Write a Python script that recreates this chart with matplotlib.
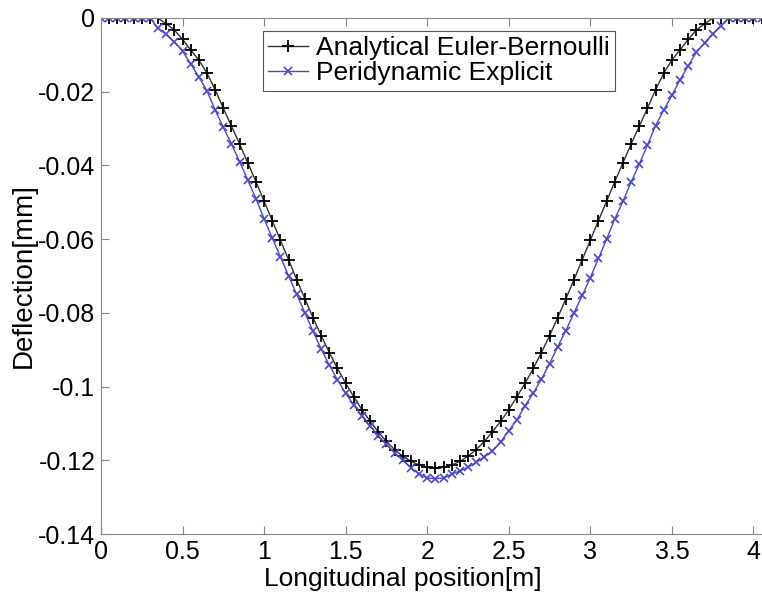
import numpy as np
import matplotlib.pyplot as plt
from matplotlib.ticker import FuncFormatter

plt.rcParams['font.family'] = ['Liberation Sans', 'DejaVu Sans']

# longitudinal positions of the nodes [m]
x_pos = [0.00, 0.05, 0.10, 0.15, 0.20, 0.25, 0.30, 0.35, 0.40, 0.45,
         0.50, 0.55, 0.60, 0.65, 0.70, 0.75, 0.80, 0.85, 0.90, 0.95,
         1.00, 1.05, 1.10, 1.15, 1.20, 1.25, 1.30, 1.35, 1.40, 1.45,
         1.50, 1.55, 1.60, 1.65, 1.70, 1.75, 1.80, 1.85, 1.90, 1.95,
         2.00, 2.05, 2.10, 2.15, 2.20, 2.25, 2.30, 2.35, 2.40, 2.45,
         2.50, 2.55, 2.60, 2.65, 2.70, 2.75, 2.80, 2.85, 2.90, 2.95,
         3.00, 3.05, 3.10, 3.15, 3.20, 3.25, 3.30, 3.35, 3.40, 3.45,
         3.50, 3.55, 3.60, 3.65, 3.70, 3.75, 3.80, 3.85, 3.90, 3.95,
         4.00, 4.05, 4.10]

# analytical Euler-Bernoulli deflection [mm]
analytical = [0, 0, 0, 0, 0, 0, 0, -0.0001, -0.0016, -0.0033,
              -0.0058, -0.0087, -0.0114, -0.0150, -0.0195, -0.0245, -0.0294, -0.0342, -0.0393, -0.0444,
              -0.0497, -0.0550, -0.0603, -0.0656, -0.0710, -0.0762, -0.0813, -0.0862, -0.0908, -0.0951,
              -0.0991, -0.1028, -0.1063, -0.1094, -0.1123, -0.1149, -0.1171, -0.1189, -0.1203, -0.1213,
              -0.1219, -0.1221, -0.1219, -0.1213, -0.1203, -0.1189, -0.1171, -0.1149, -0.1123, -0.1094,
              -0.1063, -0.1028, -0.0991, -0.0951, -0.0908, -0.0862, -0.0813, -0.0762, -0.0710, -0.0656,
              -0.0603, -0.0550, -0.0497, -0.0444, -0.0393, -0.0342, -0.0294, -0.0245, -0.0195, -0.0150,
              -0.0114, -0.0087, -0.0058, -0.0033, -0.0016, -0.0001, 0, 0, 0, 0,
              0, 0, 0]

# peridynamic explicit deflection [mm]
peridynamic = [0, 0, 0, 0, 0, 0, 0, -0.0028, -0.0045, -0.0065,
               -0.0090, -0.0125, -0.0160, -0.0198, -0.0250, -0.0297, -0.0342, -0.0390, -0.0440, -0.0490,
               -0.0545, -0.0597, -0.0648, -0.0700, -0.0750, -0.0800, -0.0850, -0.0898, -0.0942, -0.0982,
               -0.1018, -0.1050, -0.1080, -0.1108, -0.1133, -0.1157, -0.1180, -0.1200, -0.1220, -0.1237,
               -0.1248, -0.1250, -0.1248, -0.1238, -0.1229, -0.1219, -0.1206, -0.1191, -0.1175, -0.1150,
               -0.1120, -0.1090, -0.1052, -0.1018, -0.0980, -0.0938, -0.0892, -0.0848, -0.0800, -0.0753,
               -0.0705, -0.0652, -0.0600, -0.0545, -0.0498, -0.0445, -0.0397, -0.0345, -0.0292, -0.0250,
               -0.0210, -0.0168, -0.0130, -0.0093, -0.0068, -0.0043, -0.0022, 0, 0, 0,
               0, 0, 0]

fig = plt.figure(figsize=(7.62, 5.96), dpi=100)
ax = fig.add_axes([0.1325, 0.104, 0.867, 0.866])

ax.plot(x_pos, analytical, color='#333333', lw=1.0, marker='+', ms=8, mew=1.3,
        mec='black', label='Analytical Euler-Bernoulli')
ax.plot(x_pos, peridynamic, color='#4a4ac8', lw=1.0, marker='x', ms=6, mew=1.2,
        label='Peridynamic Explicit')

ax.set_xlim(0, 4.05)
ax.set_ylim(-0.14, 0)
ax.set_xticks(np.arange(0, 4.01, 0.5))
ax.set_yticks(np.arange(-0.14, 0.001, 0.02))
ax.xaxis.set_major_formatter(FuncFormatter(lambda v, p: '%g' % round(v, 2)))
ax.yaxis.set_major_formatter(FuncFormatter(lambda v, p: '%g' % round(v, 2)))
ax.tick_params(direction='in', top=True, right=False, length=6, width=0.8,
               color='#888888', labelsize=18, pad=4)
for s in ['left', 'bottom', 'top']:
    ax.spines[s].set_color('#888888')
ax.spines['right'].set_visible(False)

ax.set_xlabel('Longitudinal position[m]', fontsize=19)
ax.xaxis.set_label_coords(0.457, -0.063)
ax.set_ylabel('Deflection[mm]', fontsize=20, labelpad=1)

leg = ax.legend(loc='upper left', bbox_to_anchor=(0.245, 0.975), fontsize=19,
                fancybox=False, edgecolor='#555555', framealpha=1,
                handlelength=1.5, handletextpad=0.3, borderpad=0.2,
                labelspacing=0.05, borderaxespad=0)
leg.get_frame().set_linewidth(0.8)

fig.savefig('out.png', dpi=100)
